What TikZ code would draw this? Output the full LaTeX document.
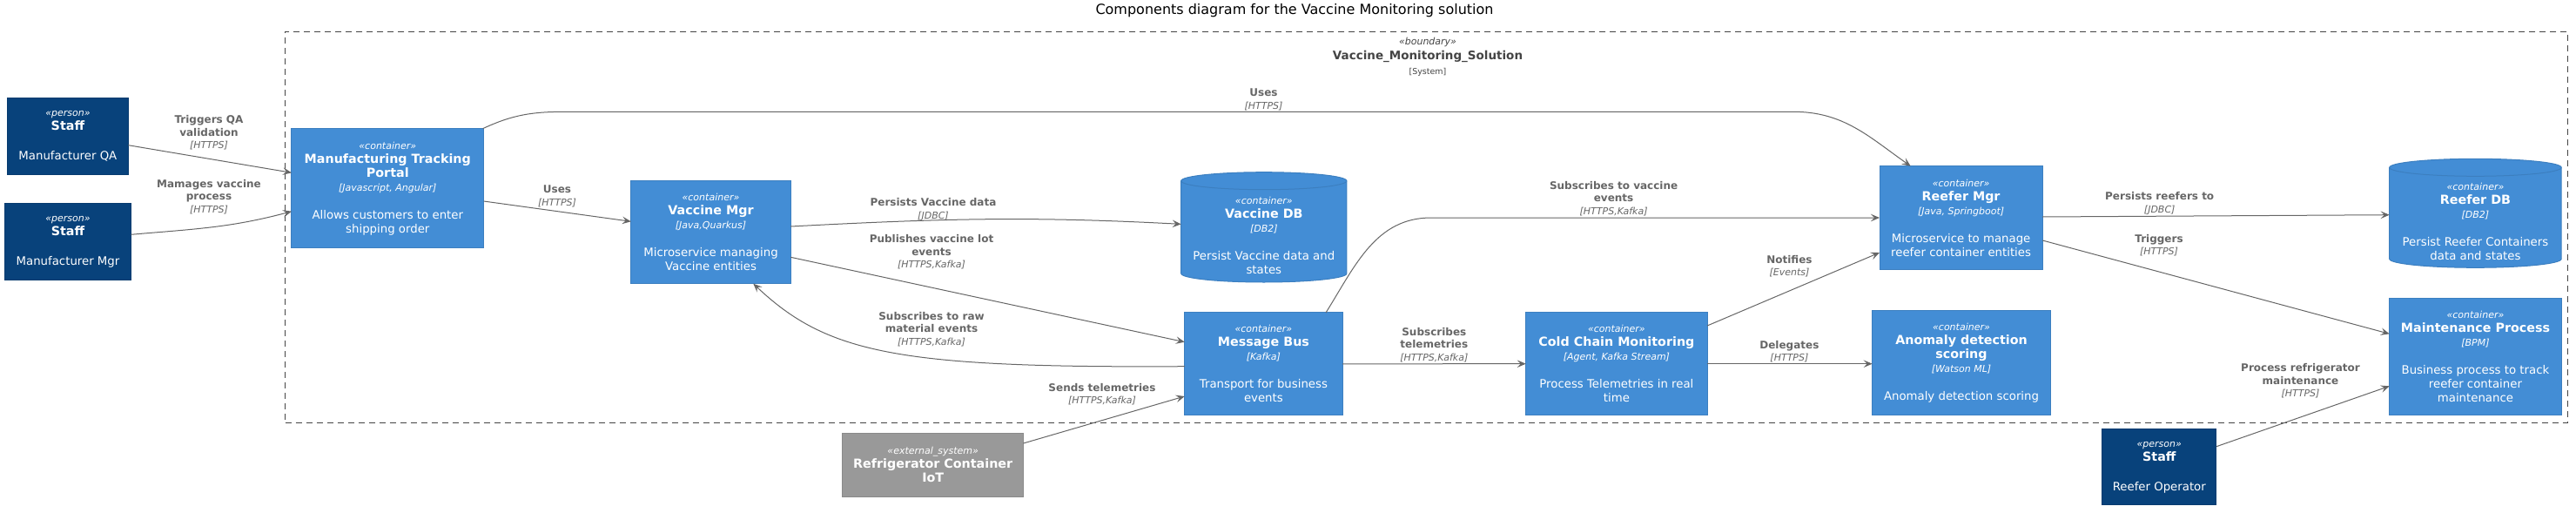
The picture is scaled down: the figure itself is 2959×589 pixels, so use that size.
\documentclass[tikz,border=0pt]{standalone}
\usepackage{fontspec}
\setmainfont{DejaVu Sans}
\usetikzlibrary{arrows.meta,backgrounds}

\definecolor{ctfill}{HTML}{438DD5}
\definecolor{ctline}{HTML}{3C7FC0}
\definecolor{psfill}{HTML}{08427B}
\definecolor{psline}{HTML}{073B6F}
\definecolor{exfill}{HTML}{999999}
\definecolor{exline}{HTML}{8A8A8A}
\definecolor{relgray}{HTML}{666666}
\definecolor{bndgray}{HTML}{444444}

\newcommand{\stf}{\fontsize{11}{16}\selectfont\itshape}
\newcommand{\nmf}{\fontsize{14.3}{16}\selectfont\bfseries}
\newcommand{\tcf}{\fontsize{11}{16}\selectfont\itshape}
\newcommand{\dsf}{\fontsize{13.3}{16}\selectfont}
\newcommand{\lbf}{\fontsize{12}{14.5}\selectfont\bfseries}
\newcommand{\ltf}{\fontsize{11}{14.5}\selectfont\itshape}

\begin{document}
\begin{tikzpicture}
[
    x=1pt, y=1pt,
    elem/.style={rectangle, draw, line width=1pt, text=white, align=center, inner sep=0pt, outer sep=0pt, font=\fontsize{13}{16}\selectfont},
    container/.style={elem, fill=ctfill, draw=ctline},
    person/.style={elem, fill=psfill, draw=psline},
    extsys/.style={elem, fill=exfill, draw=exline},
    db/.style={elem, draw=none},
    rel/.style={draw=relgray, line width=1pt, -{Stealth[length=10pt, width=8.5pt, inset=4pt]}},
    lbl/.style={text=relgray, align=center, inner sep=0pt, font=\fontsize{12}{14.5}\selectfont},
]
\useasboundingbox (0,0) rectangle (2959,-589);

\node (title) at (1487,-12) {\fontsize{16}{19}\selectfont Components diagram for the Vaccine Monitoring solution};

\node[draw=bndgray, line width=1pt, dash pattern=on 7pt off 5pt, minimum width=2621.9pt, minimum height=449pt, inner sep=0pt] (bnd) at (1638.45,-260.5) {};
\node[text=bndgray, align=center, inner sep=0pt, font=\fontsize{13}{17}\selectfont] (bndhead) at (1640,-65.3)
{{\fontsize{11}{17}\selectfont\itshape «boundary»}\\{\fontsize{13.5}{17}\selectfont\bfseries Vaccine\_Monitoring\_Solution}\\{\fontsize{9.5}{17}\selectfont [System]}};

\node[person, minimum width=138.9pt, minimum height=87.6pt] (qa) at (77.9,-156.5)
{{\stf «person»}\\{\nmf Staff}\\[18pt]{\dsf Manufacturer QA}};
\node[person, minimum width=145pt, minimum height=87.5pt] (mgr) at (78,-277.3)
{{\stf «person»}\\{\nmf Staff}\\[18pt]{\dsf Manufacturer Mgr}};
\node[container, minimum width=220.7pt, minimum height=137.3pt] (portal) at (445.3,-216.3)
{{\stf «container»}\\{\nmf Manufacturing Tracking}\\{\nmf Portal}\\{\tcf [Javascript, Angular]}\\[16pt]{\dsf Allows customers to enter}\\{\dsf shipping order}};
\node[container, minimum width=183.4pt, minimum height=118pt] (vmgr) at (816.5,-266.7)
{{\stf «container»}\\{\nmf Vaccine Mgr}\\{\tcf [Java,Quarkus]}\\[16pt]{\dsf Microservice managing}\\{\dsf Vaccine entities}};
\node[db, minimum width=190.2pt, minimum height=106.3pt] (vdb) at (1451.8,-270.85)
{{\stf «container»}\\{\nmf Vaccine DB}\\{\tcf [DB2]}\\[16pt]{\dsf Persist Vaccine data and}\\{\dsf states}};
\node[container, minimum width=181.3pt, minimum height=117.7pt] (bus) at (1451.4,-417.8)
{{\stf «container»}\\{\nmf Message Bus}\\{\tcf [Kafka]}\\[16pt]{\dsf Transport for business}\\{\dsf events}};
\node[extsys, minimum width=207.5pt, minimum height=73pt] (iot) at (1071.7,-533.5)
{{\stf «external\_system»}\\{\nmf Refrigerator Container}\\{\nmf IoT}};
\node[container, minimum width=208.3pt, minimum height=118pt] (cold) at (1856.9,-417.7)
{{\stf «container»}\\{\nmf Cold Chain Monitoring}\\{\tcf [Agent, Kafka Stream]}\\[16pt]{\dsf Process Telemetries in real}\\{\dsf time}};
\node[container, minimum width=187.2pt, minimum height=118.6pt] (rmgr) at (2252.6,-250)
{{\stf «container»}\\{\nmf Reefer Mgr}\\{\tcf [Java, Springboot]}\\[16pt]{\dsf Microservice to manage}\\{\dsf reefer container entities}};
\node[container, minimum width=204.7pt, minimum height=120pt] (anom) at (2253,-416.7)
{{\stf «container»}\\{\nmf Anomaly detection}\\{\nmf scoring}\\{\tcf [Watson ML]}\\[16pt]{\dsf Anomaly detection scoring}};
\node[db, minimum width=197.5pt, minimum height=105pt] (rdb) at (2843.45,-254.8)
{{\stf «container»}\\{\nmf Reefer DB}\\{\tcf [DB2]}\\[16pt]{\dsf Persist Reefer Containers}\\{\dsf data and states}};
\node[container, minimum width=197.5pt, minimum height=134pt] (maint) at (2843.45,-409.7)
{{\stf «container»}\\{\nmf Maintenance Process}\\{\tcf [BPM]}\\[16pt]{\dsf Business process to track}\\{\dsf reefer container}\\{\dsf maintenance}};
\node[person, minimum width=131.2pt, minimum height=87.3pt] (op) at (2480.3,-536.3)
{{\stf «person»}\\{\nmf Staff}\\[18pt]{\dsf Reefer Operator}};

\begin{scope}[on background layer]
\foreach \n/\r in {vdb/95.1, rdb/98.75}
{
    \filldraw[fill=ctfill, draw=ctline, line width=1pt] ([yshift=10pt]\n.south west) arc[start angle=180, end angle=360, x radius=\r pt, y radius=10pt] -- ([yshift=10pt]\n.north east) arc[start angle=0, end angle=180, x radius=\r pt, y radius=10pt] -- cycle;
    \draw[ctline, line width=1pt] ([yshift=10pt]\n.north west) arc[start angle=180, end angle=360, x radius=\r pt, y radius=10pt];
}
\end{scope}

\coordinate (usesup) at (650,-128.3);
\coordinate (usesdown) at (2060,-128.3);
\coordinate (subtop) at (1644,-250);

\draw[rel] ([yshift=-10.2pt]qa.east) -- ([yshift=18pt]portal.west);
\draw[rel] ([yshift=8pt]mgr.east) to[out=5, in=195] ([yshift=-26.4pt]portal.west);
\draw[rel] ([yshift=-14.7pt]portal.east) -- ([yshift=12.4pt]vmgr.west);
\draw[rel] ([xshift=-1pt]portal.north east) to[out=25, in=180] (usesup) -- (usesdown) to[out=0, in=145] ([xshift=-57.9pt]rmgr.north);
\draw[rel] ([yshift=6.7pt]vmgr.east) to[out=3, in=177] ([yshift=13.5pt]vdb.west);
\draw[rel] ([yshift=-28.6pt]vmgr.east) -- ([yshift=25.1pt]bus.west);
\draw[rel] ([yshift=-2.9pt]bus.west) .. controls +(-330,-2) and +(85,-80) .. ([xshift=48.8pt]vmgr.south);
\draw[rel] ([yshift=24.5pt]iot.east) -- ([yshift=-37.2pt]bus.west);
\draw[rel] (bus.east) -- (cold.west);
\draw[rel] ([xshift=-19pt]bus.north east) to[out=58, in=180] (subtop) -- (rmgr.west);
\draw[rel] ([yshift=43.7pt]cold.east) -- ([yshift=-40pt]rmgr.west);
\draw[rel] (cold.east) -- (cold.east -| anom.west);
\draw[rel] ([yshift=1pt]rmgr.east) -- ([yshift=8.1pt]rdb.west);
\draw[rel] ([yshift=-26pt]rmgr.east) -- ([yshift=26.4pt]maint.west);
\draw[rel] ([yshift=23.6pt]op.east) -- ([yshift=-33.6pt]maint.west);

\node[lbl] (lqa) at (240,-152.2) {{\lbf Triggers QA}\\{\lbf validation}\\{\ltf [HTTPS]}};
\node[lbl] (lmgr) at (240,-225.9) {{\lbf Mamages vaccine}\\{\lbf process}\\{\ltf [HTTPS]}};
\node[lbl] (luses) at (640,-225.5) {{\lbf Uses}\\{\ltf [HTTPS]}};
\node[lbl] (lusesreefer) at (1451.5,-114.2) {{\lbf Uses}\\{\ltf [HTTPS]}};
\node[lbl] (lpersistvac) at (1072,-240.5) {{\lbf Persists Vaccine data}\\{\ltf [JDBC]}};
\node[lbl] (lpublish) at (1070,-289.2) {{\lbf Publishes vaccine lot}\\{\lbf events}\\{\ltf [HTTPS,Kafka]}};
\node[lbl] (lraw) at (1070,-378) {{\lbf Subscribes to raw}\\{\lbf material events}\\{\ltf [HTTPS,Kafka]}};
\node[lbl] (lsend) at (1266,-452.9) {{\lbf Sends telemetries}\\{\ltf [HTTPS,Kafka]}};
\node[lbl] (ltelem) at (1647.3,-395.8) {{\lbf Subscribes}\\{\lbf telemetries}\\{\ltf [HTTPS,Kafka]}};
\node[lbl] (lvacev) at (1853.6,-228) {{\lbf Subscribes to vaccine}\\{\lbf events}\\{\ltf [HTTPS,Kafka]}};
\node[lbl] (lnotify) at (2055.4,-305.7) {{\lbf Notifies}\\{\ltf [Events]}};
\node[lbl] (ldelegate) at (2055.4,-403.7) {{\lbf Delegates}\\{\ltf [HTTPS]}};
\node[lbl] (lpersistreef) at (2480.7,-233.7) {{\lbf Persists reefers to}\\{\ltf [JDBC]}};
\node[lbl] (ltrigger) at (2480,-281.5) {{\lbf Triggers}\\{\ltf [HTTPS]}};
\node[lbl] (lprocess) at (2642.5,-437.5) {{\lbf Process refrigerator}\\{\lbf maintenance}\\{\ltf [HTTPS]}};
\end{tikzpicture}
\end{document}
